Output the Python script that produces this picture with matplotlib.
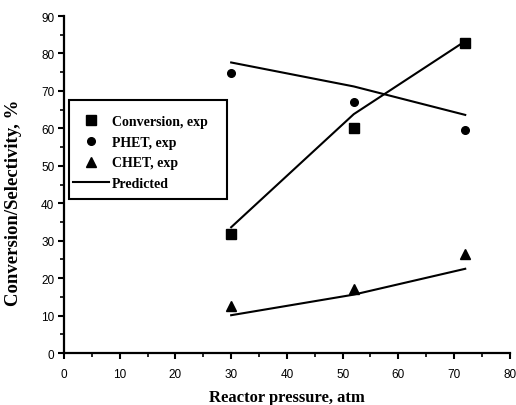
import matplotlib
matplotlib.use("Agg")
import matplotlib.pyplot as plt
from matplotlib.ticker import MultipleLocator
from matplotlib.lines import Line2D
from matplotlib.patches import Rectangle

pressure = [30, 52, 72]
conversion_exp = [31.9, 60.2, 82.7]
phet_exp = [74.8, 67.1, 59.6]
chet_exp = [12.5, 17.1, 26.4]
conversion_pred = [33.6, 63.8, 83.3]
phet_pred = [77.6, 71.2, 63.6]
chet_pred = [10.1, 15.6, 22.5]

serif_bold = dict(family="Liberation Serif", weight="bold")

fig = plt.figure(figsize=(5.16, 4.06), dpi=100)
ax = fig.add_axes([0.124, 0.128, 0.864, 0.830])

ax.plot(pressure, conversion_pred, color="black", lw=1.5)
ax.plot(pressure, phet_pred, color="black", lw=1.5)
ax.plot(pressure, chet_pred, color="black", lw=1.5)
ax.plot(pressure, conversion_exp, ls="none", marker="s", ms=7, color="black")
ax.plot(pressure, phet_exp, ls="none", marker="o", ms=5.5, color="black")
ax.plot(pressure, chet_exp, ls="none", marker="^", ms=7.5, color="black")

ax.set_xlim(0, 80)
ax.set_ylim(0, 90)
ax.xaxis.set_major_locator(MultipleLocator(10))
ax.xaxis.set_minor_locator(MultipleLocator(5))
ax.yaxis.set_major_locator(MultipleLocator(10))
ax.yaxis.set_minor_locator(MultipleLocator(5))
for side in ("top", "right"):
    ax.spines[side].set_visible(False)
for side in ("left", "bottom"):
    ax.spines[side].set_linewidth(1.6)
ax.tick_params(which="major", direction="out", length=4, width=1.5,
               labelsize=8.5)
ax.tick_params(axis="x", which="major", pad=7)
ax.tick_params(axis="y", which="major", pad=3)
ax.tick_params(which="minor", direction="out", length=3, width=1.2)
for lbl in ax.get_xticklabels() + ax.get_yticklabels():
    lbl.set_family("Liberation Sans")

ax.set_xlabel("Reactor pressure, atm", fontsize=12, labelpad=6, **serif_bold)
ax.set_ylabel("Conversion/Selectivity, %", fontsize=13.5, labelpad=5, **serif_bold)
ax.yaxis.set_label_coords(-0.095, 0.45)

# legend box drawn as its own rectangle, entries placed inside it
ax.add_patch(Rectangle((0.011, 0.457), 0.354, 0.294, transform=ax.transAxes,
                       facecolor="white", edgecolor="black", lw=1.5,
                       zorder=4, clip_on=False))
handles = [
    Line2D([], [], ls="none", marker="s", ms=6.5, color="black"),
    Line2D([], [], ls="none", marker="o", ms=5.5, color="black"),
    Line2D([], [], ls="none", marker="^", ms=7, color="black"),
    Line2D([], [], color="black", lw=1.5),
]
labels = ["Conversion, exp", "PHET, exp", "CHET, exp", "Predicted"]
leg = ax.legend(handles, labels, loc="upper left",
                bbox_to_anchor=(0.0205, 0.706),
                prop=dict(family="Liberation Serif", weight="bold", size=10),
                frameon=False, handlelength=2.6, handletextpad=0.2,
                labelspacing=0.55, borderpad=0.0, borderaxespad=0.0)
leg.set_zorder(5)

fig.savefig("out.png", dpi=100)
